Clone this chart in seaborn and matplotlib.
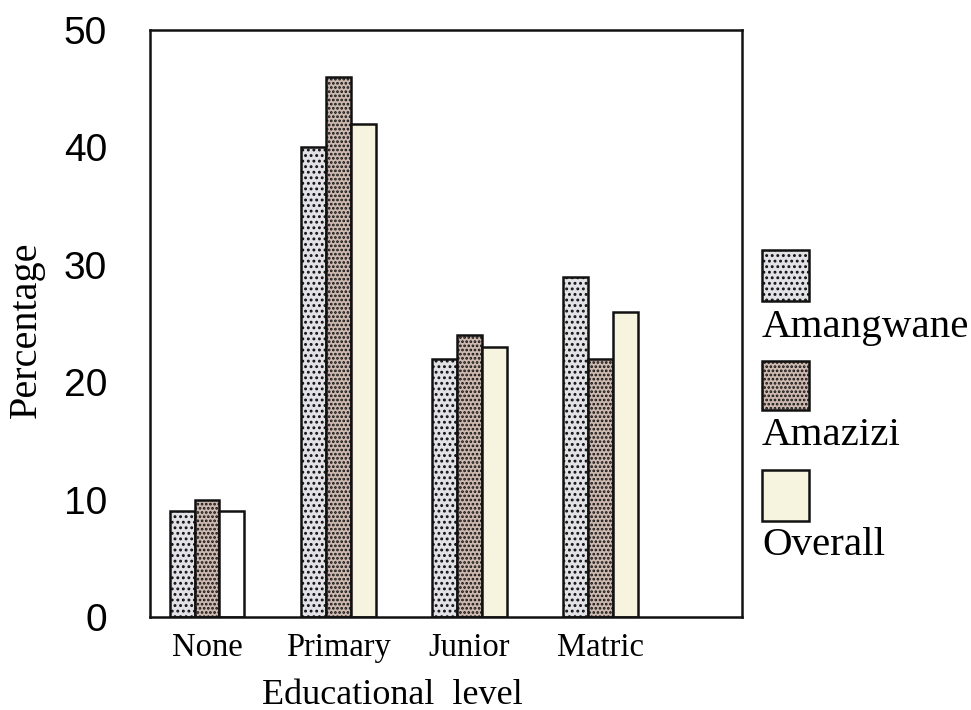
import numpy as np
import pandas as pd
import matplotlib
matplotlib.use("Agg")
import matplotlib.pyplot as plt
import seaborn as sns
from matplotlib.patches import Rectangle

categories = ["None", "Primary", "Junior", "Matric"]
groups = ["Amangwane", "Amazizi", "Overall"]
amangwane = [9, 40, 22, 29]
amazizi = [10, 46, 24, 22]
overall = [9, 42, 23, 26]

df = pd.DataFrame({
    "level": categories * 3,
    "group": [groups[0]] * 4 + [groups[1]] * 4 + [groups[2]] * 4,
    "pct": amangwane + amazizi + overall,
})

sns.set_style("white")
plt.rcParams["text.color"] = "black"
plt.rcParams["axes.labelcolor"] = "black"
plt.rcParams["xtick.color"] = "black"
plt.rcParams["ytick.color"] = "black"
SERIF = ["Liberation Serif", "DejaVu Serif"]
SANS = ["Liberation Sans", "DejaVu Sans"]
plt.rcParams["hatch.linewidth"] = 1.3

faces = {"Amangwane": "#e2e2e6", "Amazizi": "#cdb9b0", "Overall": "#f6f4df"}
hatches = {"Amangwane": "...", "Amazizi": "....", "Overall": ""}

W, H = 971, 710
fig = plt.figure(figsize=(W / 100, H / 100), dpi=100)
ax = fig.add_axes([150 / W, (H - 617) / H, 592 / W, 587 / H])

sns.barplot(data=df, x="level", y="pct", hue="group", order=categories,
            hue_order=groups, palette=faces, width=0.57, edgecolor="#111111",
            linewidth=1.8, legend=False, ax=ax, saturation=1)

for cont, g in zip(ax.containers, groups):
    for bar in cont:
        bar.set_hatch(hatches[g])
        bar.set_edgecolor("#111111")
# 'None' overall bar appears white in the reference
ax.containers[2][0].set_facecolor("white")

ax.set_ylim(0, 50)
ax.set_xlim(-0.435, 4.08)
ax.set_yticks([0, 10, 20, 30, 40, 50])
ax.tick_params(axis="both", length=0)
ax.tick_params(axis="y", pad=31)
ax.tick_params(axis="x", pad=11)
for lab in ax.get_yticklabels():
    lab.set_fontfamily(SANS)
    lab.set_fontsize(28)
for lab in ax.get_xticklabels():
    lab.set_fontfamily(SERIF)
    lab.set_fontsize(23.5)

for sp in ax.spines.values():
    sp.set_visible(True)
    sp.set_linewidth(1.8)
    sp.set_color("#111111")

ax.set_xlabel("Educational  level", fontfamily=SERIF, fontsize=26)
ax.xaxis.set_label_coords(0.41, -0.105)
ax.set_ylabel("Percentage", fontfamily=SERIF, fontsize=29)
ax.yaxis.set_label_coords(-0.178, 0.49)

# Legend: handle above label, outside right of the axes
leg_boxes = [(250, 301, 337), (361, 410, 445), (470, 521, 555)]
for g, (top, bot, base) in zip(groups, leg_boxes):
    r = Rectangle((762 / W, (H - bot) / H), 47 / W, (bot - top) / H,
                  transform=fig.transFigure, facecolor=faces[g],
                  hatch=hatches[g], edgecolor="#111111", linewidth=1.8)
    fig.add_artist(r)
    fig.text(762 / W, (H - base) / H, g, fontfamily=SERIF, fontsize=29.5,
             va="baseline", ha="left")

fig.savefig("out.png", dpi=100)
